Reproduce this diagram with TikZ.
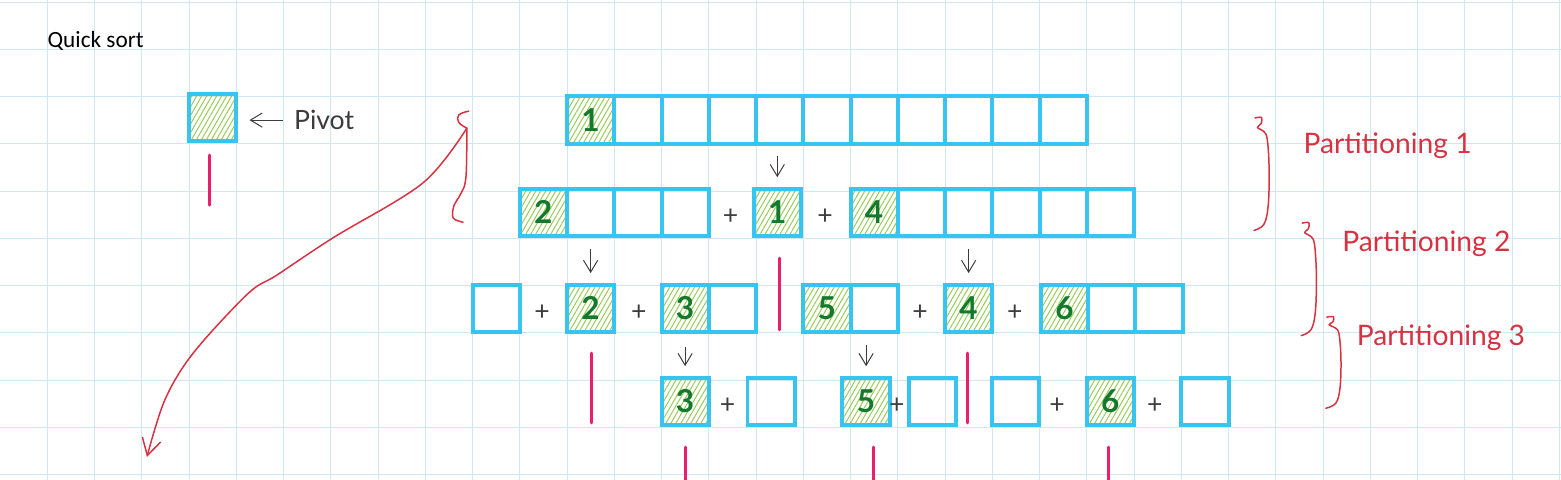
\documentclass[tikz,border=0pt]{standalone}
\usepackage{fontspec}
\setmainfont{Lato}
\newfontfamily\qsfont{Carlito}
\usepackage{xcolor}
\usepackage{tikz}
\usetikzlibrary{arrows.meta, positioning, patterns.meta}

\definecolor{gridblue}{RGB}{208,232,246}
\definecolor{boxblue}{RGB}{56,196,240}
\definecolor{hatchgreen}{RGB}{150,205,85}
\definecolor{digitgreen}{RGB}{20,120,45}
\definecolor{pinkline}{RGB}{235,30,110}
\definecolor{redink}{RGB}{215,50,65}
\definecolor{pengrey}{RGB}{60,60,60}

\begin{document}
\begin{tikzpicture}[
    cell/.style={draw=boxblue, line width=2.4pt, minimum size=1cm, inner sep=0pt},
    pivotcell/.style={cell, pattern={Lines[angle=60, distance=2.6pt, line width=0.6pt]},
                      pattern color=hatchgreen, text=digitgreen,
                      font=\fontsize{19}{19}\selectfont\bfseries},
    plus/.style={text=pengrey, font=\fontsize{16}{16}\selectfont, inner sep=0pt},
    penarrow/.style={-{Straight Barb[length=2.5mm, width=3mm]}, pengrey, line width=0.6pt},
    downarrow/.style={penarrow, shorten >=0.2cm},
    divider/.style={pinkline, line width=1.8pt, line cap=round},
    redpen/.style={redink, line width=0.9pt, line cap=round, line join=round},
    partlabel/.style={redink, font=\fontsize{17}{17}\selectfont, anchor=base west, inner sep=0pt},
    hbrace/.pic={
        \draw[redpen] plot[smooth, tension=0.6] coordinates {(0,0) (0.14,0.01) (0.13,-0.12)
            (0.05,-0.20) (0.18,-0.28) (0.26,-0.45) (0.30,-1.10) (0.28,-1.85) (0.19,-2.25) (-0.02,-2.38)};
    }
]
\useasboundingbox (0,0.042) rectangle (33.037,-10.116);

% squared paper
\foreach \x in {1,...,33}
    \draw[gridblue, line width=0.5pt] (\x,0.042) -- (\x,-10.116);
\foreach \y in {0,...,10}
    \draw[gridblue, line width=0.5pt] (0,-\y) -- (33.037,-\y);

\node[anchor=base west, font=\qsfont\fontsize{14}{14}\selectfont, inner sep=0pt] (title) at (1.0,-0.967) {Quick sort};

% legend
\node[pivotcell] (pivot) at (4.5,-2.45) {};
\node[anchor=west, text=pengrey, font=\fontsize{16}{16}\selectfont] (pivotlbl) at (6.1,-2.5) {Pivot};
\draw[penarrow, shorten <=0.11cm, shorten >=0.27cm] (pivotlbl.west) -- (pivotlbl.west -| pivot.east);

% row 1
\node[pivotcell] (r1c1) at (12.5,-2.5) {1};
\foreach \i in {2,...,11}
    \node[cell] (r1c\i) at (11.5+\i,-2.5) {};

% row 2
\node[pivotcell] (r2a1) at (11.5,-4.45) {2};
\foreach \i in {2,3,4}
    \node[cell] (r2a\i) at (10.5+\i,-4.45) {};
\node[plus] (p21) at (15.46,-4.55) {+};
\node[pivotcell] (r2b) at (16.45,-4.45) {1};
\node[plus] (p22) at (17.46,-4.55) {+};
\node[pivotcell] (r2c1) at (18.5,-4.45) {4};
\foreach \i in {2,...,6}
    \node[cell] (r2c\i) at (17.5+\i,-4.45) {};

% row 3
\node[cell] (r3a) at (10.5,-6.48) {};
\node[plus] (p31) at (11.47,-6.58) {+};
\node[pivotcell] (r3b) at (12.5,-6.48) {2};
\node[plus] (p32) at (13.52,-6.58) {+};
\node[pivotcell] (r3c1) at (14.5,-6.48) {3};
\node[cell] (r3c2) at (15.5,-6.48) {};
\node[pivotcell] (r3d1) at (17.5,-6.48) {5};
\node[cell] (r3d2) at (18.5,-6.48) {};
\node[plus] (p33) at (19.47,-6.58) {+};
\node[pivotcell] (r3e) at (20.5,-6.48) {4};
\node[plus] (p34) at (21.48,-6.58) {+};
\node[pivotcell] (r3f1) at (22.53,-6.48) {6};
\node[cell] (r3f2) at (23.53,-6.48) {};
\node[cell] (r3f3) at (24.53,-6.48) {};

% row 4
\node[pivotcell] (r4a) at (14.5,-8.45) {3};
\node[plus] (p41) at (15.4,-8.55) {+};
\node[cell] (r4b) at (16.32,-8.45) {};
\node[pivotcell] (r4c) at (18.33,-8.45) {5};
\node[plus] (p42) at (18.98,-8.55) {+};
\node[cell] (r4d) at (19.73,-8.45) {};
\node[cell] (r4e) at (21.49,-8.45) {};
\node[plus] (p43) at (22.37,-8.55) {+};
\node[pivotcell] (r4f) at (23.5,-8.45) {6};
\node[plus] (p44) at (24.44,-8.55) {+};
\node[cell] (r4g) at (25.5,-8.45) {};

% pivot arrows
\coordinate[above=0.65cm of r2b.north] (a21);
\coordinate[above=0.7cm of r3b.north] (a31);
\coordinate[above=0.7cm of r3e.north] (a32);
\coordinate[above=0.6cm of r4a.north] (a41);
\coordinate[above=0.65cm of r4c.north] (a42);
\draw[downarrow] (a21) -- (r2b);
\draw[downarrow] (a31) -- (r3b);
\draw[downarrow] (a32) -- (r3e);
\draw[downarrow] (a41) -- (r4a);
\draw[downarrow] (a42) -- (r4c);

% pink separators
\foreach \x/\ya/\yb in {4.44/-3.24/-4.30, 16.5/-5.42/-6.94, 12.51/-7.43/-8.91, 20.47/-7.43/-8.91,
                        14.5/-9.42/-10.2, 18.48/-9.42/-10.2, 23.47/-9.42/-10.2}
    \draw[divider] (\x,\ya) -- (\x,\yb);

% red bracket and sweep
\coordinate (hook) at (9.88,-2.67);
\coordinate (tip) at (3.11,-9.63);
\draw[redpen] plot[smooth, tension=0.7] coordinates {(9.92,-2.31) (9.71,-2.39) (9.71,-2.55) (hook)};
\draw[redpen] plot[smooth, tension=0.6] coordinates {(hook) (9.86,-3.72) (9.74,-4.08)
    (9.61,-4.30) (9.59,-4.57) (9.80,-4.66)};
\draw[redpen, -{Straight Barb[length=3.5mm, width=4mm]}] plot[smooth, tension=0.55] coordinates {(hook)
    (8.95,-3.83) (7.05,-4.99) (5.86,-5.78) (5.25,-6.17) (4.09,-7.43) (3.49,-8.42) (tip)};

% partitions
\pic at (26.56,-2.455) {hbrace};
\pic at (27.56,-4.68) {hbrace};
\pic[yscale=0.81] at (28.08,-6.67) {hbrace};
\node[partlabel] (part1) at (27.58,-3.20) {Partitioning 1};
\node[partlabel] (part2) at (28.40,-5.28) {Partitioning 2};
\node[partlabel] (part3) at (28.71,-7.26) {Partitioning 3};

\end{tikzpicture}
\end{document}
